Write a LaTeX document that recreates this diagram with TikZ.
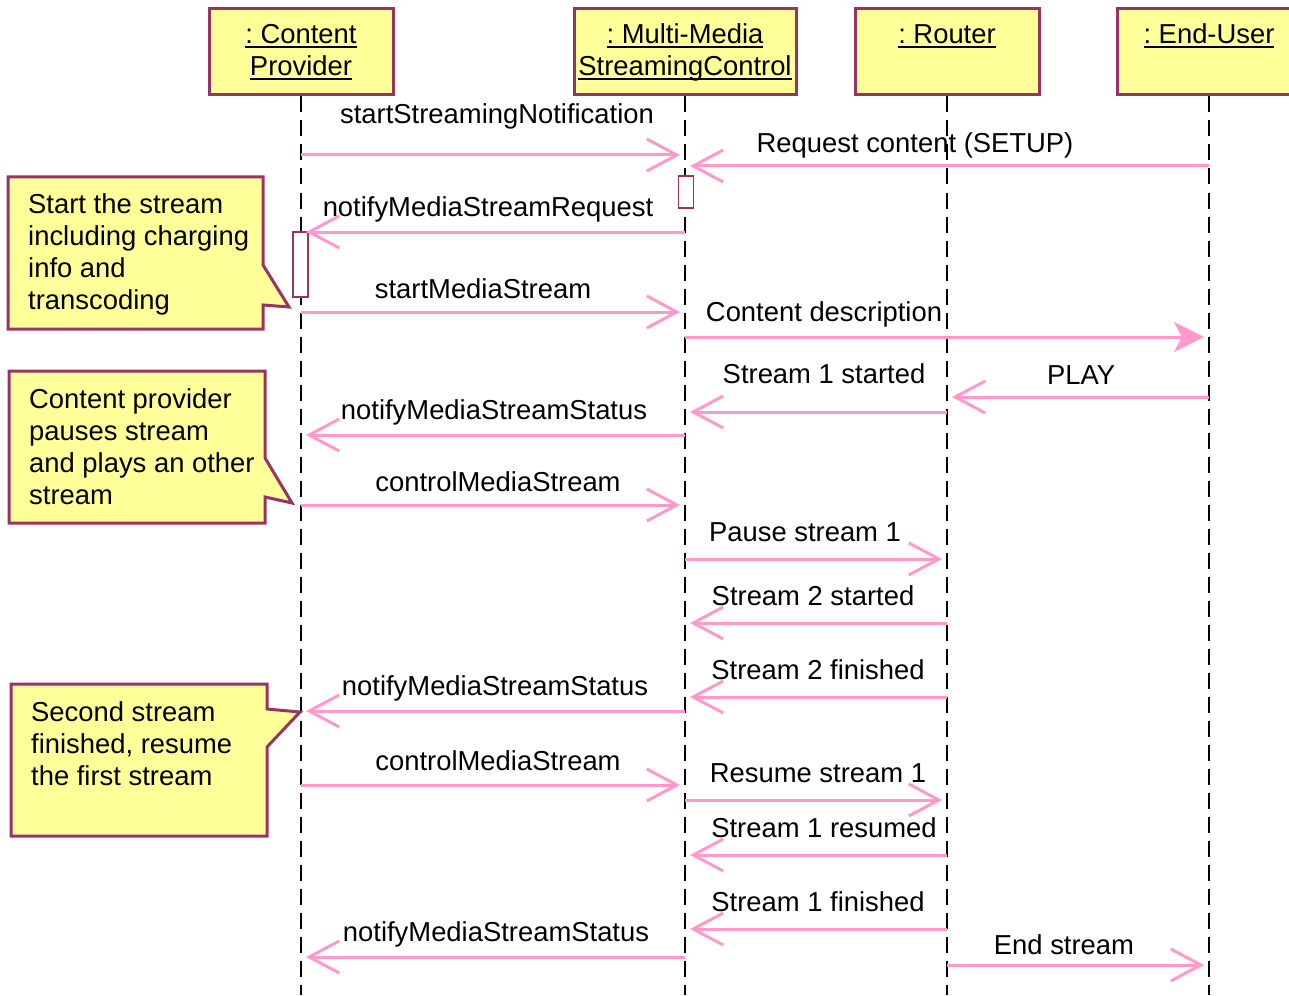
\documentclass[tikz,border=0pt]{standalone}
\usepackage{fontspec}
\setmainfont{Liberation Sans}
\usetikzlibrary{arrows.meta}
\definecolor{notefill}{HTML}{FFFF99}
\definecolor{noteborder}{HTML}{993366}
\definecolor{msgpink}{HTML}{FF99CC}
\newcommand\ulname[1]{\setbox0\hbox{#1}\rlap{\vrule height -2.5pt depth 4.5pt width \wd0}\box0}
\begin{document}
\begin{tikzpicture}[x=1pt,y=-1pt,font=\fontsize{27.4}{32}\selectfont\frenchspacing]

	\tikzstyle head boxes=[draw=noteborder, fill=notefill, line width=3pt, inner sep=0pt, minimum height=86pt, align=center];
	\tikzstyle life lines=[line width=2pt, dash pattern=on 16pt off 8pt];
	\tikzstyle message lines=[draw=msgpink, line width=3pt, shorten >=5pt, -{Straight Barb[length=30pt,width=32pt]}];
	\tikzstyle act boxes=[draw=noteborder, fill=white, line width=1.5pt, inner sep=0pt, minimum width=15pt];
	\tikzstyle note boxes=[draw=noteborder, fill=notefill, line width=3pt];
	\tikzstyle note text=[anchor=north west, align=left, inner sep=0pt];

	\useasboundingbox (0,0) rectangle (1289,995);

	\node[head boxes, minimum width=184pt] (cp) at (301,52) {\ulname{: Content}\\\ulname{Provider}};
	\node[head boxes, minimum width=222pt] (mmsc) at (685,52) {\ulname{: Multi-Media}\\\ulname{StreamingControl}};
	\node[head boxes, minimum width=184pt] (rt) at (947,52) {\ulname{: Router}\\\phantom{\ulname{Provider}}};
	\node[head boxes, minimum width=184pt] (eu) at (1209,52) {\ulname{: End-User}\\\phantom{\ulname{Provider}}};

	\foreach \n in {cp,mmsc,rt,eu}
		\draw[life lines] (\n.south) -- (\n.south |- 0,995);

	\node[act boxes, minimum height=32pt] (act mmsc) at (686,192) {};
	\node[act boxes, minimum height=65pt] (act cp) at (300.5,264.5) {};

	\foreach \a/\b/\y/\lx/\ly/\txt in {cp/mmsc/155/497/116/startStreamingNotification,
		eu/mmsc/166/915/145/Request content (SETUP),
		mmsc/cp/232/488/209/notifyMediaStreamRequest,
		cp/mmsc/312/483/289/startMediaStream,
		eu/rt/397/1081/375/PLAY,
		rt/mmsc/412/824/374/Stream 1 started,
		mmsc/cp/435/494/412/notifyMediaStreamStatus,
		cp/mmsc/505/498/482/controlMediaStream,
		mmsc/rt/559/805/532/Pause stream 1,
		rt/mmsc/623/813/596/Stream 2 started,
		rt/mmsc/697/818/670/Stream 2 finished,
		mmsc/cp/711/495/688/notifyMediaStreamStatus,
		cp/mmsc/785/498/761/controlMediaStream,
		mmsc/rt/800/818/773/Resume stream 1,
		rt/mmsc/855/824/828/Stream 1 resumed,
		rt/mmsc/929/818/902/Stream 1 finished,
		mmsc/cp/957/496/934/notifyMediaStreamStatus,
		rt/eu/965/1064/945/End stream}
	{
		\draw[message lines] (\a |- 0,\y) -- (\b |- 0,\y);
		\node (label \y) at (\lx,\ly) {\txt};
	}

	\draw[message lines, -{Stealth[length=30pt,width=30pt,inset=8pt]}] (mmsc |- 0,337) -- (eu |- 0,337);
	\node (label 337) at (824,314) {Content description};

	% notes
	\draw[note boxes] (8,177) -- (263,177) -- (263,265) -- (289,307) -- (263,305) -- (263,329) -- (8,329) -- cycle;
	\node[note text] (note start) at (28,193) {Start the stream\\including charging\\info and\\transcoding};

	\draw[note boxes] (9,371) -- (265,371) -- (265,458) -- (292,503) -- (265,497) -- (265,523) -- (9,523) -- cycle;
	\node[note text] (note pause) at (29,388) {Content provider\\pauses stream\\and plays an other\\stream};

	\draw[note boxes] (11,684) -- (267,684) -- (267,709) -- (300,712) -- (267,747) -- (267,836) -- (11,836) -- cycle;
	\node[note text] (note resume) at (31,701) {Second stream\\finished, resume\\the first stream};

\end{tikzpicture}
\end{document}
